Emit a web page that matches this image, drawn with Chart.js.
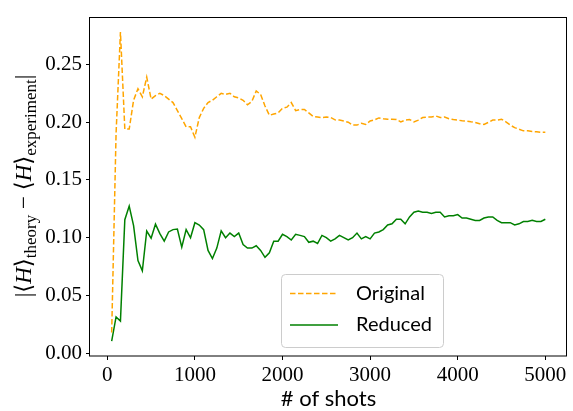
<!DOCTYPE html>
<html><head><meta charset="utf-8">
<script src="https://cdn.jsdelivr.net/npm/chart.js@4"></script>
<style>html,body{margin:0;padding:0;background:#fff;}canvas{display:block}</style>
</head><body>
<canvas id="c" width="573" height="411"></canvas>
<script>
const shots = [50,100,150,200,250,300,350,400,450,500,550,600,650,700,750,800,850,900,950,1000,
1050,1100,1150,1200,1250,1300,1350,1400,1450,1500,1550,1600,1650,1700,1750,1800,1850,1900,1950,2000,
2050,2100,2150,2200,2250,2300,2350,2400,2450,2500,2550,2600,2650,2700,2750,2800,2850,2900,2950,3000,
3050,3100,3150,3200,3250,3300,3350,3400,3450,3500,3550,3600,3650,3700,3750,3800,3850,3900,3950,4000,
4050,4100,4150,4200,4250,4300,4350,4400,4450,4500,4550,4600,4650,4700,4750,4800,4850,4900,4950,5000];
const original = [0.018,0.190,0.278,0.194,0.194,0.219,0.229,0.222,0.239,0.220,0.223,0.225,0.223,0.220,0.217,0.210,0.203,0.196,0.196,0.187,
0.204,0.212,0.217,0.219,0.222,0.225,0.224,0.225,0.222,0.221,0.219,0.215,0.218,0.227,0.224,0.214,0.206,0.207,0.208,0.212,
0.213,0.217,0.210,0.211,0.211,0.208,0.205,0.2045,0.204,0.2045,0.204,0.202,0.2018,0.201,0.200,0.1975,0.1975,0.199,0.198,0.201,
0.202,0.2037,0.203,0.2026,0.2026,0.2023,0.2003,0.2018,0.2023,0.2003,0.2018,0.204,0.2045,0.2045,0.2054,0.204,0.2045,0.203,0.2023,0.2018,
0.2012,0.201,0.2003,0.1998,0.1987,0.198,0.1998,0.2018,0.2018,0.2026,0.2003,0.1975,0.1953,0.1939,0.1925,0.1925,0.1919,0.1917,0.1913,0.1913];
const reduced = [0.0104,0.0314,0.0278,0.1156,0.1274,0.1105,0.0802,0.0713,0.1058,0.0996,0.1117,0.1035,0.097,0.105,0.107,0.1075,0.0918,0.107,0.0999,0.113,
0.111,0.107,0.089,0.082,0.091,0.106,0.100,0.104,0.101,0.104,0.094,0.091,0.091,0.093,0.089,0.083,0.087,0.097,0.097,0.103,
0.101,0.098,0.103,0.102,0.101,0.096,0.097,0.095,0.102,0.100,0.097,0.099,0.102,0.100,0.098,0.100,0.104,0.099,0.101,0.099,
0.104,0.105,0.107,0.111,0.112,0.116,0.116,0.112,0.118,0.122,0.123,0.122,0.122,0.121,0.122,0.122,0.118,0.119,0.119,0.120,
0.117,0.117,0.116,0.115,0.115,0.117,0.118,0.118,0.115,0.113,0.113,0.113,0.111,0.112,0.114,0.114,0.115,0.114,0.114,0.116];
const seriesNames = ['Original','Reduced'];
const xTicks = [0,1000,2000,3000,4000,5000];
const yTicks = [0,0.05,0.10,0.15,0.20,0.25];
const yTickLabels = ['0.00','0.05','0.10','0.15','0.20','0.25'];
const xTitle = '# of shots';

const SERIF = '"Liberation Serif", "DejaVu Serif", serif';
const SANS = 'Lato, "Noto Sans", sans-serif';

const framePlugin = {
  id: 'frame',
  afterDatasetsDraw(chart) {
    const {ctx, chartArea: a} = chart;
    ctx.save();
    ctx.strokeStyle = '#000';
    ctx.lineWidth = 1;
    ctx.strokeRect(Math.round(a.left) - 0.5, Math.round(a.top) + 0.5, Math.round(a.right - a.left), Math.round(a.bottom - a.top) - 0.5);
    ctx.restore();
  },
  afterDraw(chart) {
    const {ctx, chartArea: a} = chart;
    ctx.save();
    // x title
    ctx.fillStyle = '#000';
    ctx.font = '22px ' + SANS;
    ctx.textAlign = 'center';
    ctx.textBaseline = 'middle';
    ctx.fillText(xTitle, (a.left + a.right) / 2, 399);
    // y title (math)
    const main = '23px ' + SERIF, ital = 'italic 23px ' + SERIF, sub = '17px ' + SERIF;
    const parts = [
      ['|\u27E8', main, 0], ['H', ital, 0], ['\u27E9', main, 0], ['theory', sub, 5],
      [' \u2212 \u27E8', main, 0], ['H', ital, 0], ['\u27E9', main, 0], ['experiment', sub, 5], ['|', main, 0]
    ];
    let total = 0;
    parts.forEach(p => { ctx.font = p[1]; p.w = ctx.measureText(p[0]).width; total += p.w; });
    ctx.translate(24, 186);
    ctx.rotate(-Math.PI / 2);
    ctx.textAlign = 'left';
    ctx.textBaseline = 'alphabetic';
    let x = -total / 2;
    parts.forEach(p => { ctx.font = p[1]; ctx.fillText(p[0], x, 7 + p[2]); x += p.w; });
    ctx.restore();
    // legend
    ctx.save();
    const lx = 281, ly = 274.5, lw = 162, lh = 73;
    ctx.beginPath();
    ctx.roundRect(lx + 0.5, ly, lw, lh, 4);
    ctx.fillStyle = 'rgba(255,255,255,0.8)';
    ctx.fill();
    ctx.strokeStyle = '#cccccc';
    ctx.lineWidth = 1;
    ctx.stroke();
    chart.data.datasets.forEach((ds, i) => {
      const y = 293.5 + i * 31.5;
      ctx.beginPath();
      ctx.strokeStyle = ds.borderColor;
      ctx.lineWidth = ds.borderWidth;
      ctx.setLineDash(ds.borderDash || []);
      ctx.moveTo(290, y); ctx.lineTo(338, y);
      ctx.stroke();
      ctx.setLineDash([]);
      ctx.fillStyle = '#000';
      ctx.font = '20px ' + SANS;
      ctx.textAlign = 'left';
      ctx.textBaseline = 'middle';
      ctx.fillText(ds.label, 356, y);
    });
    ctx.restore();
  }
};

new Chart(document.getElementById('c'), {
  type: 'line',
  data: {
    datasets: [
      { label: seriesNames[0], data: shots.map((s, i) => ({x: s, y: original[i]})), borderColor: '#FFA500', borderWidth: 1.5, borderDash: [5.5, 2.5], pointRadius: 0, tension: 0, fill: false },
      { label: seriesNames[1], data: shots.map((s, i) => ({x: s, y: reduced[i]})), borderColor: '#008000', borderWidth: 1.5, pointRadius: 0, tension: 0, fill: false }
    ]
  },
  options: {
    responsive: false, animation: false, devicePixelRatio: 1,
    layout: { padding: { top: 8, right: 6, left: 0, bottom: 0 } },
    plugins: { legend: { display: false }, tooltip: { enabled: false } },
    scales: {
      x: {
        type: 'linear', min: -197.5, max: 5247.5,
        afterBuildTicks: s => { s.ticks = xTicks.map(v => ({ value: v })); },
        afterFit: s => { s.height = 55; },
        ticks: { font: { family: SERIF, size: 21 }, color: '#000', padding: 3, maxRotation: 0, autoSkip: false, callback: v => String(v) },
        grid: { drawOnChartArea: false, drawTicks: true, tickLength: 4, tickColor: '#000', tickWidth: 1 },
        border: { display: false }
      },
      y: {
        type: 'linear', min: -0.0024, max: 0.2914,
        afterBuildTicks: s => { s.ticks = yTicks.map(v => ({ value: v })); },
        afterFit: s => { s.width = 90; },
        ticks: { font: { family: SERIF, size: 21 }, color: '#000', padding: 4, autoSkip: false, callback: (v, i) => yTickLabels[i] },
        grid: { drawOnChartArea: false, drawTicks: true, tickLength: 4, tickColor: '#000', tickWidth: 1 },
        border: { display: false }
      }
    }
  },
  plugins: [framePlugin]
});
</script>
</body></html>
